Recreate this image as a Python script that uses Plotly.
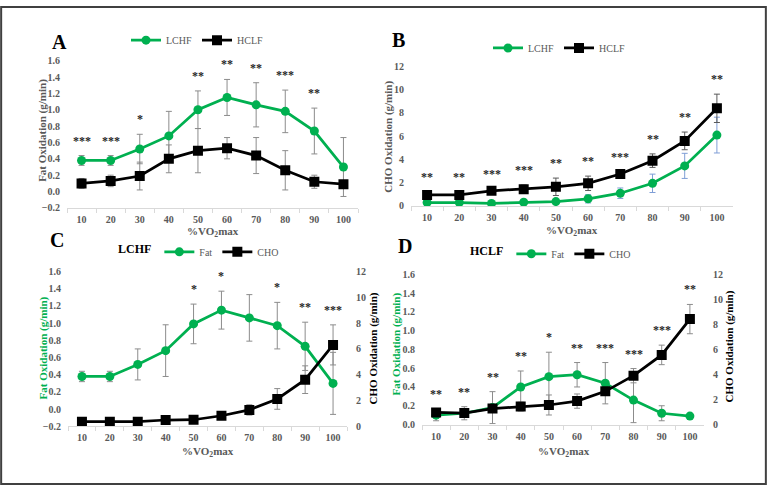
import plotly.graph_objects as go

# ---------------- data ----------------
pct = ["10", "20", "30", "40", "50", "60", "70", "80", "90", "100"]

# Panel A: fat oxidation (g/min)
a_lchf_fat = [0.38, 0.38, 0.52, 0.68, 1.00, 1.15, 1.06, 0.98, 0.74, 0.30]
a_lchf_fat_sd = [0.06, 0.06, 0.18, 0.30, 0.23, 0.22, 0.27, 0.26, 0.28, 0.36]
a_hclf_fat = [0.10, 0.13, 0.19, 0.40, 0.50, 0.53, 0.44, 0.26, 0.12, 0.09]
a_hclf_fat_sd = [0.06, 0.07, 0.17, 0.17, 0.27, 0.13, 0.22, 0.24, 0.08, 0.02]
a_sig = ["***", "***", "*", "", "**", "**", "**", "***", "**", ""]

# Panel B: CHO oxidation (g/min)
b_lchf_cho = [0.30, 0.30, 0.22, 0.32, 0.38, 0.62, 1.10, 1.95, 3.45, 6.10]
b_lchf_cho_sd = [0.10, 0.10, 0.10, 0.15, 0.20, 0.36, 0.45, 0.79, 1.08, 1.54]
b_hclf_cho = [0.95, 0.95, 1.30, 1.45, 1.65, 1.95, 2.75, 3.90, 5.60, 8.40]
b_hclf_cho_sd = [0.12, 0.12, 0.20, 0.35, 0.75, 0.62, 0.20, 0.58, 0.76, 1.22]
b_sig = ["**", "**", "***", "***", "**", "**", "***", "**", "**", "**"]

# Panel C: LCHF fat vs CHO
c_fat = [0.38, 0.38, 0.52, 0.68, 0.99, 1.15, 1.06, 0.97, 0.73, 0.30]
c_fat_sd = [0.06, 0.06, 0.18, 0.30, 0.23, 0.22, 0.27, 0.27, 0.28, 0.36]
c_cho = [0.37, 0.37, 0.37, 0.50, 0.52, 0.83, 1.28, 2.13, 3.62, 6.31]
c_cho_sd = [0.05, 0.05, 0.05, 0.10, 0.10, 0.30, 0.40, 0.80, 1.07, 1.55]
c_sig = ["", "", "", "", "*", "*", "", "*", "**", "***"]

# Panel D: HCLF fat vs CHO
d_fat = [0.10, 0.12, 0.18, 0.40, 0.51, 0.53, 0.44, 0.26, 0.12, 0.09]
d_fat_sd = [0.06, 0.07, 0.17, 0.17, 0.26, 0.13, 0.22, 0.24, 0.08, 0.0]
d_cho = [0.96, 0.91, 1.27, 1.43, 1.56, 1.87, 2.65, 3.90, 5.56, 8.42]
d_cho_sd = [0.12, 0.12, 0.20, 0.35, 0.80, 0.57, 0.20, 0.57, 0.78, 1.17]
d_sig = ["**", "**", "**", "**", "*", "**", "***", "***", "***", "**"]

# ---------------- style ----------------
GREEN = "#00B050"
BLACK = "#000000"
GRAY = "#595959"
ERR = "#8C8C8C"
FONT = "Liberation Serif, Times New Roman, serif"
W, H = 767, 491

fig = go.Figure()


def series(y, sd, name, color, symbol, xa, ya, legend, errcolor=ERR):
    return go.Scatter(
        x=pct, y=y, name=name, mode="lines+markers", xaxis=xa, yaxis=ya, legend=legend,
        line=dict(color=color, width=2.75),
        marker=dict(symbol=symbol, size=9 if symbol == "circle" else 10, color=color),
        error_y=dict(type="data", array=sd, visible=True, color=errcolor, thickness=1, width=3),
    )


# A
fig.add_trace(series(a_lchf_fat, a_lchf_fat_sd, "LCHF", GREEN, "circle", "x", "y", "legend"))
fig.add_trace(series(a_hclf_fat, a_hclf_fat_sd, "HCLF", BLACK, "square", "x", "y", "legend"))
# B
fig.add_trace(series(b_lchf_cho, b_lchf_cho_sd, "LCHF", GREEN, "circle", "x2", "y2", "legend2", errcolor="#7F9ED6"))
fig.add_trace(series(b_hclf_cho, b_hclf_cho_sd, "HCLF", BLACK, "square", "x2", "y2", "legend2", errcolor="#595959"))
# C
fig.add_trace(series(c_fat, c_fat_sd, "Fat", GREEN, "circle", "x3", "y3", "legend3"))
fig.add_trace(series(c_cho, c_cho_sd, "CHO", BLACK, "square", "x3", "y5", "legend3"))
# D
fig.add_trace(series(d_fat, d_fat_sd, "Fat", GREEN, "circle", "x4", "y4", "legend4"))
fig.add_trace(series(d_cho, d_cho_sd, "CHO", BLACK, "square", "x4", "y6", "legend4"))


def px_x(p):
    return p / W


def px_y(p):
    return 1 - p / H


tickfont = dict(family=FONT, size=10, color=GRAY, weight="bold")


def xaxis(x0, x1, anchor):
    return dict(
        domain=[px_x(x0), px_x(x1)], anchor=anchor, type="category",
        categoryorder="array", categoryarray=pct, range=[-0.5, len(pct) - 0.5],
        showline=True, linecolor="#D9D9D9", linewidth=1, showgrid=False, zeroline=False,
        ticks="outside", tickson="boundaries", ticklen=4, tickcolor="#D9D9D9",
        tickfont=tickfont, ticklabelstandoff=2, fixedrange=True, tickangle=0,
    )


def yaxis(y0, y1, anchor, rng, dtick, fmt, side="left", overlaying=None):
    d = dict(
        domain=[px_y(y1), px_y(y0)], anchor=anchor, range=rng, dtick=dtick, tickformat=fmt,
        showline=False, showgrid=False, zeroline=False, ticks="", side=side,
        tickfont=tickfont, ticklabelstandoff=6, fixedrange=True,
    )
    if overlaying:
        d["overlaying"] = overlaying
        d.pop("domain")
    return d


FAT_RANGE = [-0.2, 1.6]
CHO_RANGE = [0, 12]
D_FAT_RANGE = [0, 1.6]

layout = dict(
    width=W, height=H, margin=dict(l=0, r=0, t=0, b=0),
    paper_bgcolor="white", plot_bgcolor="white",
    font=dict(family=FONT, color=GRAY),
    xaxis=xaxis(67, 358, "y"),
    yaxis=yaxis(56, 207, "x", FAT_RANGE, 0.2, ".1f"),
    xaxis2=xaxis(411, 733, "y2"),
    yaxis2=yaxis(62, 205, "x2", CHO_RANGE, 2, "d"),
    xaxis3=xaxis(68, 347, "y3"),
    yaxis3=yaxis(272, 431, "x3", FAT_RANGE, 0.2, ".1f"),
    yaxis5=yaxis(272, 431, "x3", CHO_RANGE, 2, "d", side="right", overlaying="y3"),
    xaxis4=xaxis(422, 704, "y4"),
    yaxis4=yaxis(275, 429, "x4", D_FAT_RANGE, 0.2, ".1f"),
    yaxis6=yaxis(275, 429, "x4", CHO_RANGE, 2, "d", side="right", overlaying="y4"),
)
layout["yaxis5"]["ticklabelstandoff"] = 8
layout["yaxis6"]["ticklabelstandoff"] = 8

legfont = dict(family=FONT, size=10, color=GRAY)


def legend(cx, cy, title=None):
    d = dict(
        x=px_x(cx), y=px_y(cy), xanchor="center", yanchor="middle", orientation="h",
        font=legfont, bgcolor="rgba(0,0,0,0)", itemwidth=30, tracegroupgap=0,
        itemclick=False, itemdoubleclick=False,
    )
    if title:
        d["title"] = dict(text=title, side="left", font=dict(family=FONT, size=12, color=BLACK, weight="bold"))
    return d


layout["legend"] = legend(197, 35)
layout["legend2"] = legend(559, 43)
layout["legend3"] = legend(200, 252, "LCHF")
layout["legend4"] = legend(552, 254, "HCLF")

fig.update_layout(**layout)

ann = []


def text(x, y, s, size=11, color=GRAY, angle=0, bold=True):
    ann.append(dict(
        x=px_x(x), y=px_y(y), xref="paper", yref="paper", text=s, showarrow=False,
        textangle=angle, xanchor="center", yanchor="middle",
        font=dict(family=FONT, size=size, color=color, weight="bold" if bold else "normal"),
    ))


# panel letters
text(59, 37, "A", size=20, color=BLACK)
text(398, 35, "B", size=20, color=BLACK)
text(57, 240, "C", size=20, color=BLACK)
text(405, 246, "D", size=20, color=BLACK)

# axis titles
XT = "%VO<sub>2</sub>max"
text(43, 128, "Fat Oxidation (g/min)", angle=-90)
text(213, 232, XT)
text(389, 134, "CHO Oxidation (g/min)", angle=-90)
text(572, 231, XT)
text(43, 351, "Fat Oxidation (g/min)", angle=-90, color=GREEN)
text(373, 351, "CHO Oxidation (g/min)", angle=-90, color=BLACK)
text(208, 457, XT)
text(397, 347, "Fat Oxidation (g/min)", angle=-90, color=GREEN)
text(729, 349, "CHO Oxidation (g/min)", angle=-90, color=BLACK)
text(564, 457, XT)


def frac(v, rng):
    return (v - rng[0]) / (rng[1] - rng[0])


def stars(sig, xa, yref, groups, shift=15, floor=0.0):
    for i, s in enumerate(sig):
        if not s:
            continue
        top = max(frac(y[i] + sd[i], rng) for (y, sd, rng) in groups)
        top = max(top, floor)
        ann.append(dict(
            x=i, y=top, xref=xa, yref=yref + " domain", text=s, showarrow=False,
            xanchor="center", yanchor="middle", yshift=shift,
            font=dict(family=FONT, size=12, color="#262626", weight="bold"),
        ))


stars(a_sig, "x", "y", [(a_lchf_fat, a_lchf_fat_sd, FAT_RANGE), (a_hclf_fat, a_hclf_fat_sd, FAT_RANGE)])
stars(b_sig, "x2", "y2", [(b_lchf_cho, b_lchf_cho_sd, CHO_RANGE), (b_hclf_cho, b_hclf_cho_sd, CHO_RANGE)], floor=0.1)
stars(c_sig, "x3", "y3", [(c_fat, c_fat_sd, FAT_RANGE), (c_cho, c_cho_sd, CHO_RANGE)])
stars(d_sig, "x4", "y4", [(d_fat, d_fat_sd, D_FAT_RANGE), (d_cho, d_cho_sd, CHO_RANGE)])

fig.update_layout(annotations=ann)

# outer frame
fig.add_shape(type="rect", xref="paper", yref="paper", x0=0.0015, y0=0.002, x1=0.9985, y1=0.998,
              line=dict(color="#404040", width=2), fillcolor="rgba(0,0,0,0)", layer="above")

fig.write_html("out.html", config={"displayModeBar": False},
               post_script="document.body.style.margin='0';")
